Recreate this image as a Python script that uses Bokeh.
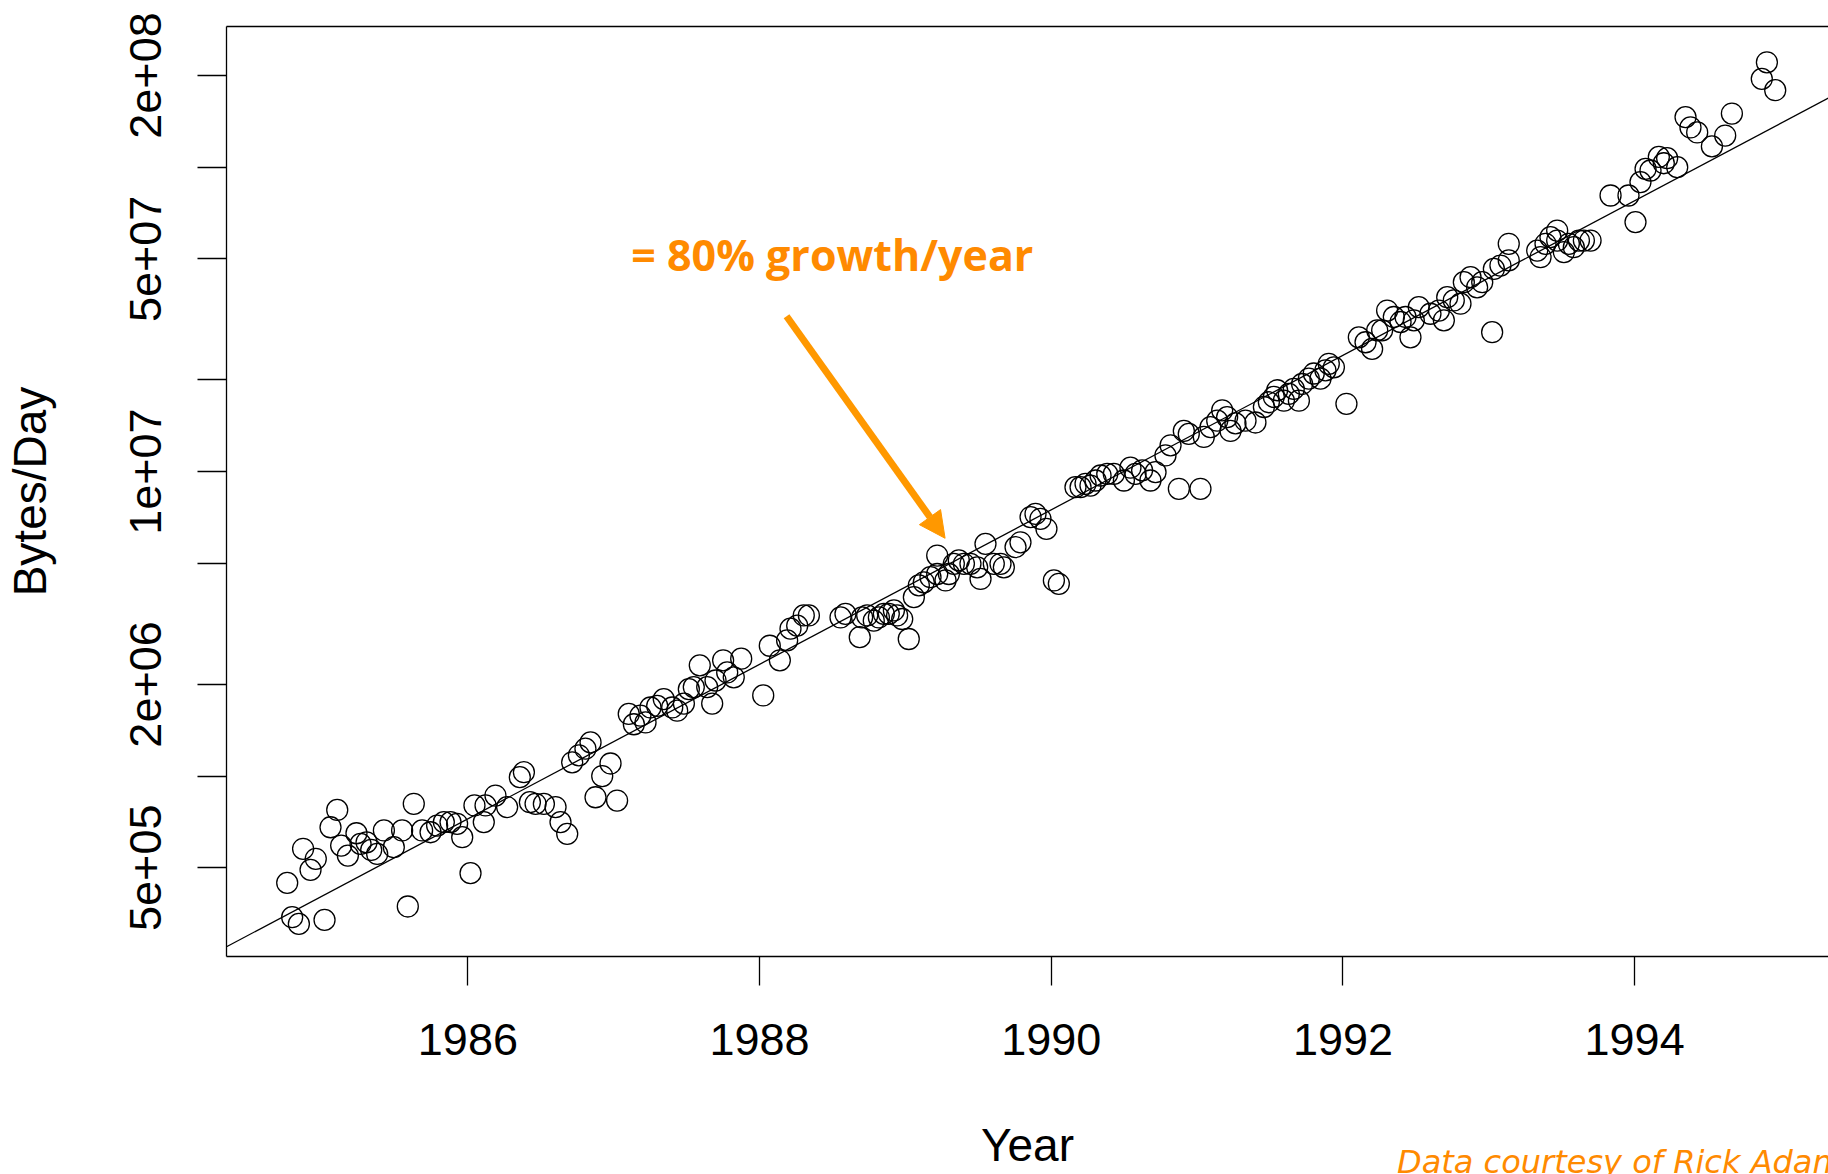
from bokeh.plotting import figure
from bokeh.models import (FixedTicker, LinearAxis, Label, Arrow, NormalHead,
                          ColumnDataSource, Div)
from bokeh.layouts import column
from bokeh.embed import file_html
from bokeh.resources import INLINE

# ---- data ----
years = [
    1984.761, 1984.795, 1984.841, 1985.017, 1984.870, 1984.921, 1984.957, 1985.058,
    1985.104, 1985.131, 1985.177, 1985.236, 1985.264, 1985.305, 1985.337, 1985.378,
    1985.424, 1985.492, 1985.549, 1985.629, 1985.588, 1985.686, 1985.744, 1985.789,
    1985.835, 1985.881, 1985.926, 1985.961, 1986.018, 1986.045, 1986.109, 1986.121,
    1986.189, 1986.269, 1986.356, 1986.384, 1986.425, 1986.464,
    1986.521, 1986.601, 1986.635, 1986.681, 1986.715, 1986.761, 1986.806, 1986.841,
    1986.875, 1986.921, 1986.978, 1987.023, 1987.103, 1987.138, 1987.183, 1987.218,
    1987.252, 1987.298, 1987.343, 1987.401, 1987.435, 1987.481, 1987.515, 1987.549,
    1987.590, 1987.641, 1987.675, 1987.698, 1987.750, 1987.778, 1987.823, 1987.874,
    1988.025, 1988.070, 1988.139, 1988.189, 1988.212, 1988.258, 1988.303, 1988.338,
    1988.555, 1988.589, 1988.687, 1988.703, 1988.738, 1988.783, 1988.818, 1988.852,
    1988.886, 1988.921, 1988.943, 1988.978, 1989.023, 1989.058, 1989.092, 1989.126,
    1989.172, 1989.218, 1989.218, 1989.275, 1989.298, 1989.332, 1989.366, 1989.401,
    1989.446, 1989.492, 1989.515, 1989.549, 1989.606, 1989.652, 1989.675, 1989.755,
    1989.789, 1989.858, 1989.892, 1989.926, 1989.967, 1990.018, 1990.052, 1990.166,
    1990.201, 1990.235, 1990.269, 1990.304, 1990.338, 1990.384, 1990.429,
    1990.498, 1990.543, 1990.578, 1990.623, 1990.680, 1990.715, 1990.875, 1991.023,
    1990.783, 1990.818, 1990.909, 1990.943, 1991.046, 1991.092, 1991.138, 1991.172,
    1991.206, 1991.229, 1991.263, 1991.332, 1991.400, 1991.458, 1991.492, 1991.526,
    1991.549, 1991.595, 1991.629, 1991.663, 1991.698, 1991.720, 1991.766, 1991.800,
    1991.846, 1991.880, 1991.903, 1991.938, 1992.024, 1992.109, 1992.155, 1992.200,
    1992.235, 1992.269, 1992.303, 1992.349, 1992.395, 1992.429, 1992.463, 1992.486,
    1992.520,
    1992.600, 1992.658, 1992.692, 1992.715, 1992.760, 1992.806, 1992.829, 1992.875,
    1992.920, 1992.955, 1993.023, 1993.035, 1993.080, 1993.137, 1993.137, 1993.332,
    1993.355, 1993.389, 1993.423, 1993.469, 1993.469, 1993.515, 1993.549, 1993.583,
    1993.618, 1993.652, 1993.698, 1993.835, 1993.958, 1994.006, 1994.040, 1994.075,
    1994.109, 1994.166, 1994.200, 1994.223, 1994.292, 1994.349, 1994.383, 1994.429,
    1994.530, 1994.621, 1994.667, 1994.872, 1994.907, 1994.964,
]

bytes_per_day = [
    4.46e5, 3.44e5, 3.27e5, 3.37e5, 5.77e5, 4.92e5, 5.35e5, 6.79e5,
    7.74e5, 5.91e5, 5.48e5, 6.49e5, 5.99e5, 6.06e5, 5.72e5, 5.55e5,
    6.63e5, 5.84e5, 6.63e5, 8.11e5, 3.73e5, 6.63e5, 6.54e5, 6.88e5,
    7.06e5, 7.06e5, 6.97e5, 6.30e5, 4.80e5, 8.01e5, 7.06e5, 8.01e5,
    8.63e5, 7.91e5, 9.92e5, 1.03e6, 8.21e5, 8.11e5,
    8.10e5, 7.91e5, 7.06e5, 6.46e5, 1.11e6, 1.17e6, 1.23e6, 1.29e6,
    8.52e5, 1.00e6, 1.10e6, 8.31e5, 1.60e6, 1.48e6, 1.58e6, 1.50e6,
    1.68e6, 1.70e6, 1.79e6, 1.68e6, 1.64e6, 1.73e6, 1.93e6, 1.96e6,
    2.31e6, 1.96e6, 1.73e6, 2.06e6, 2.40e6, 2.19e6, 2.11e6, 2.43e6,
    1.84e6, 2.68e6, 2.40e6, 2.79e6, 3.05e6, 3.12e6, 3.37e6, 3.37e6,
    3.32e6, 3.41e6, 2.86e6, 3.32e6, 3.37e6, 3.24e6, 3.32e6, 3.41e6,
    3.41e6, 3.50e6, 3.37e6, 3.28e6, 2.82e6, 3.87e6, 4.23e6, 4.33e6,
    4.50e6, 5.30e6, 4.61e6, 4.39e6, 4.61e6, 4.98e6, 5.11e6, 4.98e6,
    4.98e6, 4.85e6, 4.44e6, 5.79e6, 4.98e6, 4.98e6, 4.85e6, 5.65e6,
    5.86e6, 7.09e6, 7.26e6, 7.00e6, 6.49e6, 4.39e6, 4.28e6, 8.89e6,
    8.89e6, 9.12e6, 9.00e6, 9.35e6, 9.71e6, 9.83e6, 9.83e6,
    9.35e6, 1.03e7, 9.83e6, 1.01e7, 9.35e6, 9.96e6, 8.78e6, 8.78e6,
    1.13e7, 1.22e7, 1.36e7, 1.33e7, 1.30e7, 1.40e7, 1.47e7, 1.59e7,
    1.51e7, 1.36e7, 1.44e7, 1.47e7, 1.45e7, 1.63e7, 1.69e7, 1.76e7,
    1.85e7, 1.71e7, 1.80e7, 1.87e7, 1.71e7, 1.94e7, 2.02e7, 2.10e7,
    2.02e7, 2.15e7, 2.26e7, 2.20e7, 1.67e7, 2.76e7, 2.66e7, 2.53e7,
    2.91e7, 2.91e7, 3.38e7, 3.22e7, 3.10e7, 3.22e7, 2.76e7, 3.14e7,
    3.47e7,
    3.30e7, 3.38e7, 3.14e7, 3.74e7, 3.65e7, 3.56e7, 4.19e7, 4.35e7,
    4.03e7, 4.19e7, 2.87e7, 4.63e7, 4.75e7, 4.94e7, 5.60e7, 5.32e7,
    5.06e7, 5.60e7, 5.89e7, 6.19e7, 5.74e7, 5.26e7, 5.60e7, 5.46e7,
    5.74e7, 5.74e7, 5.74e7, 8.07e7, 8.07e7, 6.60e7, 8.93e7, 9.87e7,
    9.75e7, 1.08e8, 1.03e8, 1.07e8, 1.00e8, 1.46e8, 1.35e8, 1.30e8,
    1.17e8, 1.27e8, 1.50e8, 1.95e8, 2.21e8, 1.79e8,
]

# fitted trend line (end points at the plot edges)
fit_years = [1984.345, 1995.329]
fit_bytes = [2.751e5, 1.686e8]

x_ticks = [1986, 1988, 1990, 1992, 1994]
x_tick_labels = ["1986", "1988", "1990", "1992", "1994"]
y_ticks = [5e5, 1e6, 2e6, 5e6, 1e7, 2e7, 5e7, 1e8, 2e8]
y_tick_labels = ["5e+05", "", "2e+06", "", "1e+07", "", "5e+07", "", "2e+08"]

annotation_text = "= 80% growth/year"
credit_text = "Data courtesy of Rick Adams"

ORANGE_TEXT = "#FF8A00"
ORANGE_ARROW = "#FF9800"
FONT = "Liberation Sans"

p = figure(width=1828, height=1174,
           x_range=(1984.3448, 1995.3294), y_range=(2.5552e5, 2.897e8),
           y_axis_type="log", output_backend="svg", toolbar_location=None,
           min_border_left=226, min_border_right=0,
           min_border_top=26, min_border_bottom=218)
p.outline_line_color = None
p.grid.visible = False
p.background_fill_color = "white"
p.border_fill_color = "white"

# x axis
xa = p.xaxis[0]
xa.ticker = FixedTicker(ticks=x_ticks)
xa.major_label_overrides = {t: l for t, l in zip(x_ticks, x_tick_labels)}
xa.axis_label = "Year"
# y axis
ya = p.yaxis[0]
ya.ticker = FixedTicker(ticks=y_ticks)
ya.major_label_overrides = {t: l for t, l in zip(y_ticks, y_tick_labels)}
ya.major_label_orientation = "vertical"
ya.axis_label = "Bytes/Day"

for ax in (xa, ya):
    ax.axis_line_color = "black"
    ax.axis_line_width = 1.3
    ax.major_tick_line_color = "black"
    ax.major_tick_line_width = 1.3
    ax.major_tick_out = 29
    ax.major_tick_in = 0
    ax.minor_tick_line_color = None
    ax.major_label_text_font = FONT
    ax.major_label_text_font_size = "45px"
    ax.major_label_text_color = "black"
    ax.axis_label_text_font = FONT
    ax.axis_label_text_font_size = "46px"
    ax.axis_label_text_font_style = "normal"
    ax.axis_label_text_color = "black"
xa.major_label_standoff = 38
ya.major_label_standoff = 36
xa.axis_label_standoff = 61
ya.axis_label_standoff = 72

# top border of the box
top = LinearAxis(ticker=FixedTicker(ticks=[]), major_tick_out=0, major_tick_in=0,
                 minor_tick_line_color=None, major_label_text_font_size="0px",
                 axis_line_color="black", axis_line_width=1.3)
p.add_layout(top, "above")

src = ColumnDataSource(dict(year=years, bytes=bytes_per_day))
p.line(fit_years, fit_bytes, line_color="black", line_width=1.3)
p.scatter(x="year", y="bytes", source=src, marker="circle", size=21,
          fill_color=None, line_color="black", line_width=1.3)

p.add_layout(Arrow(end=NormalHead(size=26, fill_color=ORANGE_ARROW,
                                  line_color=ORANGE_ARROW, line_width=1),
                   x_start=1988.185, y_start=3.24e7, x_end=1989.272, y_end=6.04e6,
                   line_color=ORANGE_ARROW, line_width=7))

p.add_layout(Label(x=1987.12, y=5.165e7, text=annotation_text,
                   text_font="Open Sans", text_font_style="bold",
                   text_font_size="43px", text_color=ORANGE_TEXT,
                   text_baseline="alphabetic"))

# credit line, sitting below the plot area and cut off by the page edge
credit = Div(text=credit_text,
             styles={"position": "absolute", "left": "1392px", "top": "1138px",
                     "width": "436px", "height": "36px", "overflow": "hidden",
                     "white-space": "nowrap", "color": ORANGE_TEXT,
                     "font-family": "'DejaVu Sans'", "font-style": "italic",
                     "font-size": "32px", "line-height": "normal",
                     "z-index": "10"})

layout = column(p, credit)
open("out.html", "w").write(file_html(layout, INLINE))
